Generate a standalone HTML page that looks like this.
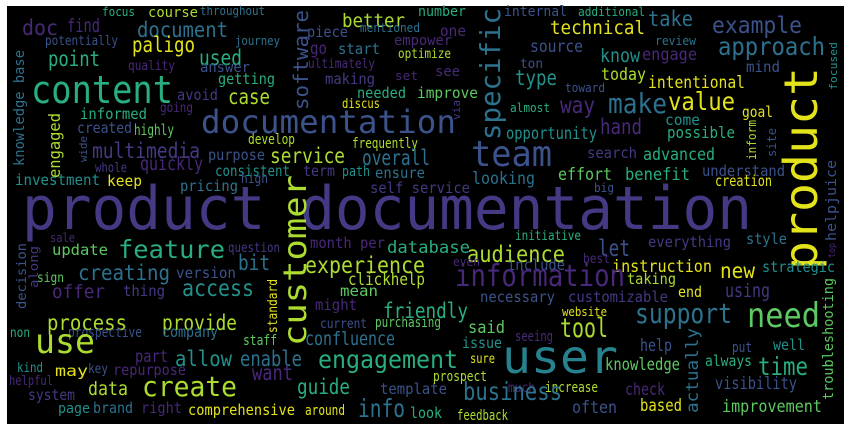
<!DOCTYPE html>
<html><head><meta charset="utf-8"><style>
html,body{margin:0;padding:0;background:#fff;width:851px;height:432px;overflow:hidden}
svg{display:block}
text{font-family:"DejaVu Sans Mono","Liberation Mono",monospace}
</style></head><body>
<svg id="wc" width="851" height="432" xmlns="http://www.w3.org/2000/svg">
<rect x="7" y="6" width="837" height="418" fill="#000"/>
</svg>
<script>
const PAL={P:"#482878",S:"#443983",B:"#3b528b",T:"#2c728e",C:"#21918c",G:"#28ae80",L:"#5ec962",Y:"#addc30",F:"#e3e31c",U:"#26828e"};
// [word, x, baseline, length, size, color, vertical]
const words=[
["product documentation",22,229,730,60,"S",0],
["product",817,270,203,46,"F",1],
["user",502,373,116,46,"U",0],
["customer",306,346,171,32,"Y",1],
["content",31,103,142,38,"G",0],
["documentation",201,133,255,32,"B",0],
["specific",500,140,132,28,"T",1],
["team",471,166,81,36,"B",0],
["software",308,110,100,20,"B",1],
["document",137,37,91,21,"T",0],
["doc",22,35,36,21,"P",0],
["find",67,32,33,19,"P",0],
["focus",102,16,33,12,"G",0],
["course",148,17,50,14,"Y",0],
["throughout",200,15,65,12,"T",0],
["better",342,27,63,19,"Y",0],
["number",418,16,48,14,"G",0],
["internal",504,16,63,14,"B",0],
["additional",578,16,67,12,"G",0],
["take",648,26,45,21,"T",0],
["example",712,33,90,23,"B",0],
["approach",718,55,107,25,"T",0],
["technical",550,34,95,19,"F",0],
["one",440,36,26,15,"P",0],
["mentioned",360,32,60,12,"T",0],
["piece",307,37,41,15,"B",0],
["paligo",132,52,63,21,"F",0],
["potentially",45,45,73,13,"B",0],
["journey",235,45,45,12,"T",0],
["go",310,54,17,17,"P",0],
["start",338,54,42,15,"T",0],
["empower",394,45,58,14,"P",0],
["optimize",398,58,53,13,"Y",0],
["point",48,66,52,21,"G",0],
["used",199,65,43,21,"G",0],
["quality",128,70,47,13,"P",0],
["answer",200,72,50,14,"B",0],
["ultimately",308,68,67,13,"P",0],
["source",530,52,53,17,"B",0],
["know",600,62,40,19,"C",0],
["engage",642,60,55,17,"P",0],
["review",655,45,41,12,"T",0],
["ton",520,68,23,13,"B",0],
["see",435,76,25,14,"P",0],
["set",395,80,23,12,"P",0],
["type",515,85,42,21,"C",0],
["today",601,80,45,17,"Y",0],
["intentional",648,88,97,17,"F",0],
["mind",746,72,34,15,"B",0],
["focused",837,90,48,11,"C",1],
["getting",218,84,57,15,"G",0],
["making",325,84,50,15,"S",0],
["toward",565,92,40,12,"B",0],
["improve",417,98,61,15,"L",0],
["needed",357,98,49,15,"G",0],
["avoid",177,100,41,15,"S",0],
["case",228,104,42,21,"Y",0],
["knowledge base",24,166,116,14,"T",1],
["discus",342,108,38,13,"F",0],
["going",160,112,33,13,"P",0],
["informed",80,119,67,15,"G",0],
["engaged",60,178,65,16,"Y",1],
["make",608,113,59,28,"T",0],
["way",560,113,35,23,"P",0],
["value",668,110,67,25,"F",0],
["via",460,120,20,11,"S",1],
["almost",510,112,40,12,"G",0],
["goal",742,117,31,15,"F",0],
["come",665,125,35,15,"C",0],
["hand",600,134,42,21,"P",0],
["opportunity",506,139,91,17,"C",0],
["possible",667,138,68,16,"G",0],
["inform",756,160,40,12,"Y",1],
["site",776,157,29,12,"B",1],
["created",77,133,55,15,"B",0],
["highly",134,135,40,15,"L",0],
["develop",248,144,47,14,"Y",0],
["frequently",352,148,66,14,"Y",0],
["wide",87,162,26,11,"B",1],
["multimedia",92,158,108,21,"S",0],
["purpose",208,160,57,15,"B",0],
["service",270,163,75,21,"Y",0],
["overall",362,165,68,21,"T",0],
["quickly",140,170,63,19,"P",0],
["consistent",215,176,75,15,"C",0],
["whole",95,172,32,13,"S",0],
["term",303,176,32,15,"S",0],
["path",342,176,28,14,"C",0],
["ensure",375,178,50,15,"T",0],
["search",587,158,50,15,"S",0],
["advanced",643,160,72,17,"G",0],
["effort",558,180,54,17,"L",0],
["benefit",625,180,65,17,"G",0],
["understand",702,176,83,15,"B",0],
["creation",715,186,57,15,"F",0],
["helpjuice",836,241,81,14,"B",1],
["top",835,258,15,10,"P",1],
["looking",472,184,63,17,"T",0],
["big",594,192,20,12,"B",0],
["self service",370,193,100,15,"S",0],
["investment",15,185,85,15,"C",0],
["keep",107,186,35,15,"F",0],
["pricing",180,191,58,15,"T",0],
["high",241,183,27,13,"B",0],
["sale",50,242,25,12,"P",0],
["update",52,255,56,15,"L",0],
["feature",118,258,107,25,"G",0],
["question",228,252,52,13,"S",0],
["month per",310,248,75,15,"P",0],
["database",387,253,83,17,"G",0],
["decision",26,309,66,13,"B",1],
["along",38,288,42,12,"S",1],
["sign",37,282,27,13,"L",0],
["creating",78,280,92,21,"T",0],
["version",176,278,60,15,"B",0],
["bit",238,270,32,21,"T",0],
["experience",305,273,120,23,"Y",0],
["clickhelp",348,285,77,17,"Y",0],
["offer",52,298,53,19,"P",0],
["thing",123,296,42,15,"S",0],
["access",182,296,72,23,"C",0],
["mean",340,296,38,15,"L",0],
["standard",277,333,54,13,"F",1],
["might",315,310,42,15,"P",0],
["friendly",383,318,85,21,"G",0],
["process",47,330,80,21,"Y",0],
["provide",162,330,75,21,"Y",0],
["current",320,328,47,13,"B",0],
["purchasing",375,327,66,14,"L",0],
["non",10,337,20,13,"G",0],
["prospective",68,337,74,14,"B",0],
["company",162,337,56,15,"T",0],
["staff",243,345,34,14,"L",0],
["confluence",305,345,90,19,"T",0],
["use",35,353,60,34,"Y",0],
["part",135,362,33,17,"P",0],
["allow",175,366,57,21,"C",0],
["enable",240,366,62,21,"T",0],
["engagement",318,368,140,25,"G",0],
["kind",17,372,26,13,"C",0],
["key",88,373,20,13,"B",0],
["repurpose",113,375,73,15,"P",0],
["may",55,376,33,15,"F",0],
["want",252,380,41,21,"P",0],
["helpful",9,385,44,13,"P",0],
["system",28,400,47,15,"S",0],
["data",88,395,40,19,"Y",0],
["create",142,396,95,28,"Y",0],
["guide",297,394,53,21,"G",0],
["template",380,394,67,15,"B",0],
["page",58,413,32,14,"C",0],
["brand",93,413,40,15,"T",0],
["right",141,413,41,15,"P",0],
["comprehensive",188,415,107,15,"F",0],
["around",305,415,40,14,"F",0],
["info",358,417,47,25,"T",0],
["look",410,418,32,15,"G",0],
["initiative",515,240,66,13,"G",0],
["everything",648,247,83,15,"S",0],
["style",746,244,41,15,"T",0],
["audience",467,262,98,23,"Y",0],
["let",598,256,32,23,"B",0],
["even",453,266,27,12,"P",0],
["include",507,270,58,15,"B",0],
["best",583,263,27,13,"P",0],
["instruction",612,272,100,17,"F",0],
["new",720,278,35,21,"F",0],
["strategic",762,272,73,15,"C",0],
["information",455,286,170,30,"P",0],
["taking",627,284,49,15,"Y",0],
["troubleshooting",833,400,122,14,"L",1],
["necessary",480,302,75,15,"B",0],
["customizable",568,302,100,15,"S",0],
["end",678,297,24,15,"F",0],
["using",725,297,45,19,"S",0],
["website",562,316,45,12,"F",0],
["support",635,323,97,28,"T",0],
["need",747,327,73,34,"L",0],
["said",468,333,37,17,"L",0],
["tool",560,337,48,27,"Y",0],
["actually",698,413,85,17,"T",1],
["seeing",515,341,38,14,"P",0],
["issue",462,348,40,15,"C",0],
["help",640,351,32,17,"B",0],
["put",732,352,20,14,"B",0],
["well",773,350,32,15,"C",0],
["sure",470,363,25,13,"F",0],
["knowledge",605,370,75,17,"L",0],
["always",705,366,47,15,"G",0],
["time",758,375,50,25,"G",0],
["prospect",433,381,54,14,"Y",0],
["much",508,392,27,13,"P",0],
["increase",545,392,53,14,"Y",0],
["check",625,395,40,17,"P",0],
["visibility",715,389,82,17,"B",0],
["business",463,400,99,25,"T",0],
["often",572,413,45,17,"B",0],
["based",640,411,42,17,"F",0],
["improvement",722,412,100,17,"L",0],
["feedback",457,420,51,14,"Y",0]
];
const svg=document.getElementById('wc');
const NS="http://www.w3.org/2000/svg";
for(const w of words){
  const t=document.createElementNS(NS,'text');
  
  
  t.setAttribute('font-size',w[4]);
  t.setAttribute('fill',PAL[w[5]]);
  t.setAttribute('textLength',w[3]);
  t.setAttribute('lengthAdjust','spacingAndGlyphs');
  if(w[6]){t.setAttribute('transform','translate('+w[1]+','+w[2]+') rotate(-90)');t.setAttribute('x',0);t.setAttribute('y',0);}
  else{t.setAttribute('x',w[1]);t.setAttribute('y',w[2]);}
  t.textContent=w[0];
  svg.appendChild(t);
}
</script>
</body></html>
